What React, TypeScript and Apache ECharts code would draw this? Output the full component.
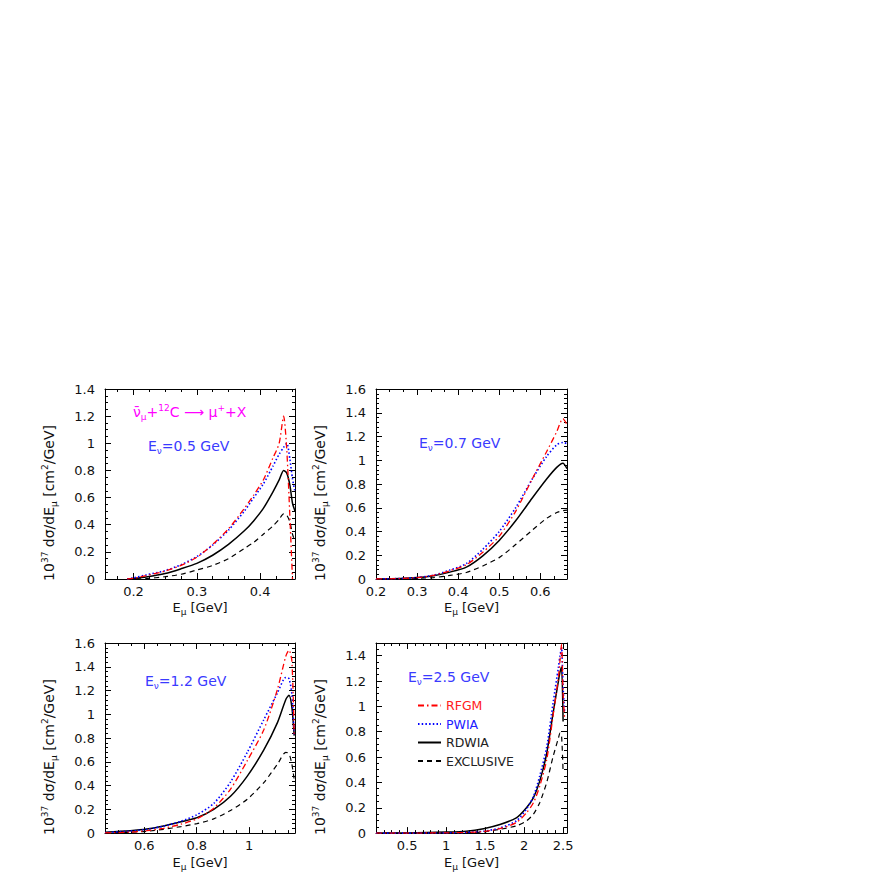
import React, { useEffect, useRef } from "react";
import * as echarts from "echarts";

const FONT = "DejaVu Sans";

// ---------- Data ----------
const curveNames = ["RFGM", "PWIA", "RDWIA", "EXCLUSIVE"];

// Panel 1: E_nu = 0.5 GeV
const p1X = [0.19, 0.2, 0.22, 0.25, 0.275, 0.3, 0.325, 0.35, 0.375, 0.39, 0.405, 0.42, 0.43, 0.437, 0.442, 0.447, 0.451, 0.455];
const p1RFGM = [0, 0.005, 0.025, 0.058, 0.1, 0.16, 0.255, 0.37, 0.52, 0.62, 0.73, 0.89, 1.0, 1.2, 0.95, 0.45, 0, null];
const p1PWIA = [0, 0.008, 0.03, 0.062, 0.105, 0.165, 0.25, 0.36, 0.5, 0.6, 0.7, 0.83, 0.92, 0.97, 1.0, 0.88, 0.74, 0.64];
const p1RDWIA = [0, 0.004, 0.015, 0.04, 0.075, 0.115, 0.175, 0.255, 0.355, 0.43, 0.52, 0.64, 0.73, 0.8, 0.78, 0.69, 0.56, 0.5];
const p1EXCL = [0, 0.001, 0.003, 0.017, 0.035, 0.066, 0.1, 0.15, 0.225, 0.27, 0.33, 0.39, 0.44, 0.48, 0.47, 0.42, 0.33, 0.28];

// Panel 2: E_nu = 0.7 GeV
const p2X = [0.2, 0.26, 0.3, 0.34, 0.38, 0.42, 0.46, 0.5, 0.54, 0.58, 0.615, 0.64, 0.655, 0.665];
const p2RFGM = [0, 0.004, 0.012, 0.03, 0.07, 0.12, 0.225, 0.36, 0.57, 0.84, 1.07, 1.24, 1.35, 1.3];
const p2PWIA = [0, 0.004, 0.013, 0.032, 0.075, 0.13, 0.25, 0.4, 0.6, 0.84, 1.03, 1.13, 1.15, 1.14];
const p2RDWIA = [0, 0.004, 0.012, 0.028, 0.058, 0.1, 0.195, 0.325, 0.49, 0.68, 0.84, 0.94, 0.975, 0.93];
const p2EXCL = [0, 0.002, 0.006, 0.012, 0.03, 0.055, 0.11, 0.18, 0.29, 0.41, 0.51, 0.56, 0.575, 0.58];

// Panel 3: E_nu = 1.2 GeV
const p3X = [0.45, 0.546, 0.61, 0.673, 0.74, 0.801, 0.865, 0.929, 0.993, 1.056, 1.108, 1.14, 1.152, 1.163, 1.172];
const p3RFGM = [0.002, 0.008, 0.02, 0.04, 0.075, 0.12, 0.21, 0.37, 0.61, 0.87, 1.21, 1.49, 1.54, 1.45, 0.82];
const p3PWIA = [0.005, 0.017, 0.032, 0.058, 0.1, 0.155, 0.25, 0.43, 0.68, 0.955, 1.18, 1.31, 1.3, 1.17, 0.82];
const p3RDWIA = [0.008, 0.02, 0.034, 0.06, 0.095, 0.13, 0.2, 0.31, 0.48, 0.7, 0.93, 1.125, 1.16, 1.06, 0.82];
const p3EXCL = [0.002, 0.007, 0.015, 0.032, 0.055, 0.08, 0.12, 0.19, 0.285, 0.425, 0.58, 0.68, 0.67, 0.58, 0.45];

// Panel 4: E_nu = 2.5 GeV
const p4X = [0.1, 0.5, 1.0, 1.26, 1.48, 1.69, 1.9, 2.03, 2.12, 2.2, 2.29, 2.37, 2.44, 2.46, 2.48, 2.5, 2.52];
const p4RFGM = [0, 0, 0.002, 0.005, 0.013, 0.036, 0.083, 0.16, 0.24, 0.37, 0.58, 0.92, 1.23, 1.36, 1.49, 1.1, 0.9];
const p4PWIA = [0, 0, 0.002, 0.005, 0.015, 0.04, 0.096, 0.19, 0.29, 0.45, 0.68, 1.02, 1.31, 1.4, 1.46, 1.15, 0.95];
const p4RDWIA = [0, 0.001, 0.008, 0.015, 0.035, 0.068, 0.12, 0.2, 0.28, 0.41, 0.63, 0.94, 1.2, 1.27, 1.31, 0.88, null];
const p4EXCL = [0, 0, 0.001, 0.003, 0.01, 0.03, 0.057, 0.096, 0.15, 0.24, 0.4, 0.6, 0.75, 0.79, 0.77, 0.48, null];

const beamEnergies = ["0.5", "0.7", "1.2", "2.5"];

// ---------- Styles ----------
const curveStyles: Record<string, any> = {
  RFGM: { color: "#ff0000", width: 1.3, type: [6, 3, 1.5, 3] },
  PWIA: { color: "#0000ff", width: 1.6, type: [1.5, 2.2] },
  RDWIA: { color: "#000000", width: 1.5, type: "solid" },
  EXCLUSIVE: { color: "#000000", width: 1.2, type: [5, 4] },
};
const legendColors: Record<string, string> = {
  RFGM: "#ff2020",
  PWIA: "#2020ff",
  RDWIA: "#222222",
  EXCLUSIVE: "#222222",
};

const panels = [
  { x: p1X, ys: [p1RFGM, p1PWIA, p1RDWIA, p1EXCL], xMin: 0.155, xMax: 0.455, xSplit: 3, xMinor: 4, showMinX: false, yMax: 1.4, yMinor: 4, showMaxY: true,
    grid: { left: 105, top: 389, width: 190, height: 190 }, label: { x: 148, y: 446 } },
  { x: p2X, ys: [p2RFGM, p2PWIA, p2RDWIA, p2EXCL], xMin: 0.2, xMax: 0.665, xSplit: 5, xMinor: 3, showMinX: true, yMax: 1.6, yMinor: 5, showMaxY: true,
    grid: { left: 376, top: 389, width: 191, height: 190 }, label: { x: 419, y: 443 } },
  { x: p3X, ys: [p3RFGM, p3PWIA, p3RDWIA, p3EXCL], xMin: 0.45, xMax: 1.175, xSplit: 4, xMinor: 4, showMinX: false, yMax: 1.6, yMinor: 5, showMaxY: true,
    grid: { left: 105, top: 643, width: 190, height: 191 }, label: { x: 145, y: 681 } },
  { x: p4X, ys: [p4RFGM, p4PWIA, p4RDWIA, p4EXCL], xMin: 0.1, xMax: 2.55, xSplit: 5, xMinor: 5, showMinX: false, yMax: 1.5, yMinor: 4, showMaxY: false,
    grid: { left: 376, top: 643, width: 191, height: 191 }, label: { x: 408, y: 677 } },
];

const richScripts = {
  sub: { fontSize: 9, lineHeight: 9, verticalAlign: "bottom", fontFamily: FONT },
  sup: { fontSize: 9, lineHeight: 9, verticalAlign: "top", fontFamily: FONT },
};

function buildOption() {
  const grid: any[] = [];
  const xAxis: any[] = [];
  const yAxis: any[] = [];
  const series: any[] = [];
  const graphic: any[] = [];

  const tick = { show: true, inside: true, length: 6, lineStyle: { color: "#000", width: 1 } };
  const minorTickBase = { show: true, length: 3, lineStyle: { color: "#000", width: 1 } };
  const axisLine = { show: true, onZero: false, lineStyle: { color: "#000", width: 1 } };

  panels.forEach((p, i) => {
    grid.push({ ...p.grid, containLabel: false });
    const xCommon = {
      type: "value", gridIndex: i, min: p.xMin, max: p.xMax, splitNumber: p.xSplit,
      axisLine, axisTick: tick, minorTick: { ...minorTickBase, splitNumber: p.xMinor },
      splitLine: { show: false }, minorSplitLine: { show: false },
    };
    xAxis.push({
      ...xCommon, position: "bottom",
      axisLabel: { show: true, color: "#111", fontFamily: FONT, fontSize: 13, margin: 6, showMinLabel: p.showMinX, showMaxLabel: false },
      name: "E{sub|μ} [GeV]", nameLocation: "middle", nameGap: 17,
      nameTextStyle: { color: "#111", fontFamily: FONT, fontSize: 13, lineHeight: 18, rich: richScripts },
    });
    xAxis.push({ ...xCommon, position: "top", axisLabel: { show: false } });

    const yCommon = {
      type: "value", gridIndex: i, min: 0, max: p.yMax, interval: 0.2,
      axisLine, axisTick: tick, minorTick: { ...minorTickBase, splitNumber: p.yMinor },
      splitLine: { show: false }, minorSplitLine: { show: false },
    };
    yAxis.push({
      ...yCommon, position: "left",
      axisLabel: { show: true, color: "#111", fontFamily: FONT, fontSize: 13, margin: 10, showMaxLabel: p.showMaxY },
      name: "10{sup|37} dσ/dE{sub|μ} [cm{sup|2}/GeV]", nameLocation: "middle", nameGap: 47, nameRotate: 90,
      nameTextStyle: { color: "#111", fontFamily: FONT, fontSize: 14, lineHeight: 18, padding: [0, 38, 0, 0], rich: richScripts },
    });
    yAxis.push({ ...yCommon, position: "right", axisLabel: { show: false } });

    curveNames.forEach((name, k) => {
      const st = curveStyles[name];
      const data: any[] = [];
      p.x.forEach((xv, j) => {
        const yv = p.ys[k][j];
        if (yv !== null && yv !== undefined) data.push([xv, yv]);
      });
      series.push({
        type: "line", name, xAxisIndex: 2 * i, yAxisIndex: 2 * i, data,
        symbol: "none", showSymbol: false, smooth: 0.25, clip: true,
        lineStyle: { color: st.color, width: st.width, type: st.type },
        itemStyle: { color: st.color }, z: 10 - k,
      });
    });

    graphic.push({
      type: "text", left: p.label.x, top: p.label.y - 9,
      style: {
        text: "E{sub|ν}=" + beamEnergies[i] + " GeV", fill: "#3a3aff",
        fontFamily: FONT, fontSize: 14, lineHeight: 18,
        rich: { sub: { ...richScripts.sub, fill: "#3a3aff" } },
      },
    });
  });

  graphic.push({
    type: "text", left: 133, top: 412 - 9,
    style: {
      text: "ν̄{sub|μ}+{sup|12}C ⟶ μ{sup|+}+X", fill: "#ff00ff",
      fontFamily: FONT, fontSize: 14, lineHeight: 18,
      rich: { sub: { ...richScripts.sub, fill: "#ff00ff" }, sup: { ...richScripts.sup, fill: "#ff00ff" } },
    },
  });

  return {
    animation: false,
    backgroundColor: "#ffffff",
    grid, xAxis, yAxis, series, graphic,
    legend: {
      show: true, orient: "vertical", left: 412, top: 694,
      itemWidth: 23, itemHeight: 14, itemGap: 5.5, selectedMode: false,
      itemStyle: { opacity: 0 },
      textStyle: { fontFamily: FONT, fontSize: 12.5 },
      data: curveNames.map((n) => ({ name: n, textStyle: { color: legendColors[n] } })),
    },
  };
}

export default function App() {
  const ref = useRef<HTMLDivElement>(null);
  useEffect(() => {
    if (!ref.current) return;
    const chart = echarts.init(ref.current, undefined, { renderer: "svg" });
    chart.setOption(buildOption() as any);
    return () => chart.dispose();
  }, []);
  return <div ref={ref} style={{ position: "absolute", left: 0, top: 0, width: 872, height: 872 }} />;
}
